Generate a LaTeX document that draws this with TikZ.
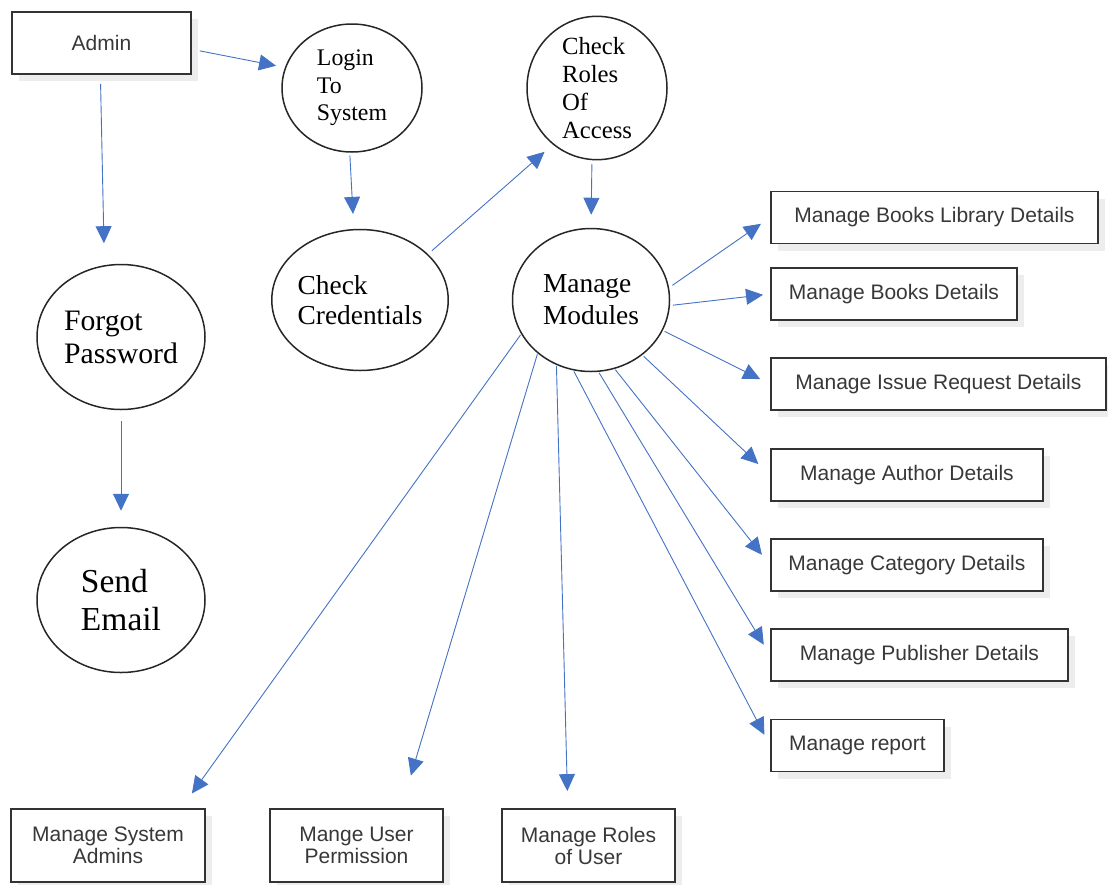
\documentclass[tikz,border=0pt]{standalone}
\usepackage{fontspec}
\setmainfont{Liberation Serif}
\newfontfamily\boxfont{Liberation Sans}
\usepackage{xcolor}
\usepackage{tikz}
\usetikzlibrary{shapes.geometric,arrows.meta,positioning,shadows}

\definecolor{flowblue}{RGB}{68,114,196}

\begin{document}
\begin{tikzpicture}[x=1pt, y=-1pt,
    entity/.style={rectangle, draw=black!80, line width=1.8pt, fill=white, inner sep=0pt, align=center,
        text=black!78, font=\boxfont\fontsize{21}{22}\selectfont, minimum height=52pt,
        drop shadow={shadow xshift=7pt, shadow yshift=-7pt, fill=black, opacity=0.07}},
    proc/.style={ellipse, draw=black!85, line width=1.5pt, inner sep=0pt, align=left},
    flow/.style={draw=flowblue, line width=0.9pt, -{Triangle[length=17pt, width=16pt]}}]

    \useasboundingbox (0,0) rectangle (1108,884);

    % left column
    \node [entity, minimum width=179pt, minimum height=62pt] (admin) at (101.5,43) {Admin};
    \node [proc, minimum width=168pt, minimum height=145pt, font=\fontsize{29.7}{33}\selectfont] (forgot) at (121,337) {Forgot\\Password};
    \node [proc, minimum width=168pt, minimum height=145pt, font=\fontsize{33.5}{38}\selectfont] (email) at (121,600) {Send\\Email};

    % login path
    \node [proc, minimum width=140pt, minimum height=128pt, font=\fontsize{23.8}{27.5}\selectfont] (login) at (352,88) {Login\\To\\System};
    \node [proc, minimum width=154pt, minimum height=141pt, font=\fontsize{27.4}{30}\selectfont] (chkcred) at (360,300) {Check\\Credentials};
    \node [proc, minimum width=140pt, minimum height=129pt, font=\fontsize{24.7}{28}\selectfont] (chkrole) at (597,88) {Check\\Roles\\Of\\Access};
    \node [proc, minimum width=157pt, minimum height=143pt, font=\fontsize{27.4}{32}\selectfont] (mods) at (591,300) {Manage\\Modules};

    % modules on the right
    \node [entity, anchor=west, minimum width=327pt] (bklib) at (770,217.5) {Manage Books Library Details};
    \node [entity, anchor=west, minimum width=246pt] (bkdet) at (770,294) {Manage Books Details};
    \node [entity, anchor=west, minimum width=335pt] (issue) at (770,384) {Manage Issue Request Details};
    \node [entity, anchor=west, minimum width=272pt] (author) at (770,475) {Manage Author Details};
    \node [entity, anchor=west, minimum width=272pt] (categ) at (770,565) {Manage Category Details};
    \node [entity, anchor=west, minimum width=297pt] (publ) at (770,655) {Manage Publisher Details};
    \node [entity, anchor=west, minimum width=173pt] (report) at (770,745.5) {Manage report};

    % modules at the bottom
    \node [entity, minimum width=194pt, minimum height=73pt] (sysadm) at (108,845.5) {Manage System\\Admins};
    \node [entity, minimum width=173pt, minimum height=73pt] (userperm) at (356.5,845.5) {Mange User\\Permission};
    \node [entity, minimum width=173pt, minimum height=73pt] (userrole) at (588.5,845.5) {Manage Roles\\of User};

    \draw [flow, shorten <=8pt, shorten >=9pt] (admin.-4) -- (login.163);
    \draw [flow, shorten <=9pt, shorten >=22pt] (admin.-92) -- (forgot.103);
    \draw [flow, shorten <=11pt, shorten >=16pt] (forgot.south) -- (email.north);
    \draw [flow, shorten <=3pt, shorten >=15pt] (login.-92) -- (chkcred.95);
    \draw [flow, shorten <=5pt, shorten >=11pt] (chkcred.34) -- (chkrole.232);
    \draw [flow, shorten <=4pt, shorten >=13pt] (chkrole.-94) -- (mods.north);

    \draw [flow, shorten <=4pt, shorten >=11pt] (mods.9) -- (bklib.west);
    \draw [flow, shorten <=3pt, shorten >=7pt] (mods.-4) -- (bkdet.west);
    \draw [flow, shorten <=2pt, shorten >=11pt] (mods.-23) -- (issue.west);
    \draw [flow, shorten <=2pt, shorten >=16pt] (mods.-47) -- (author.west);
    \draw [flow, shorten <=1pt, shorten >=13pt] (mods.-71) -- (categ.west);
    \draw [flow, shorten <=1pt, shorten >=12pt] (mods.-84) -- (publ.west);
    \draw [flow, shorten <=1pt, shorten >=12pt] (mods.-104) -- (report.west);
    \draw [flow, shorten <=1pt, shorten >=17pt] (mods.-118) -- (userrole.119);
    \draw [flow, shorten <=1pt, shorten >=34pt] (mods.-135) -- (userperm.40);
    \draw [flow, shorten <=1pt, shorten >=18pt] (mods.-154) -- (sysadm.27);
\end{tikzpicture}
\end{document}
